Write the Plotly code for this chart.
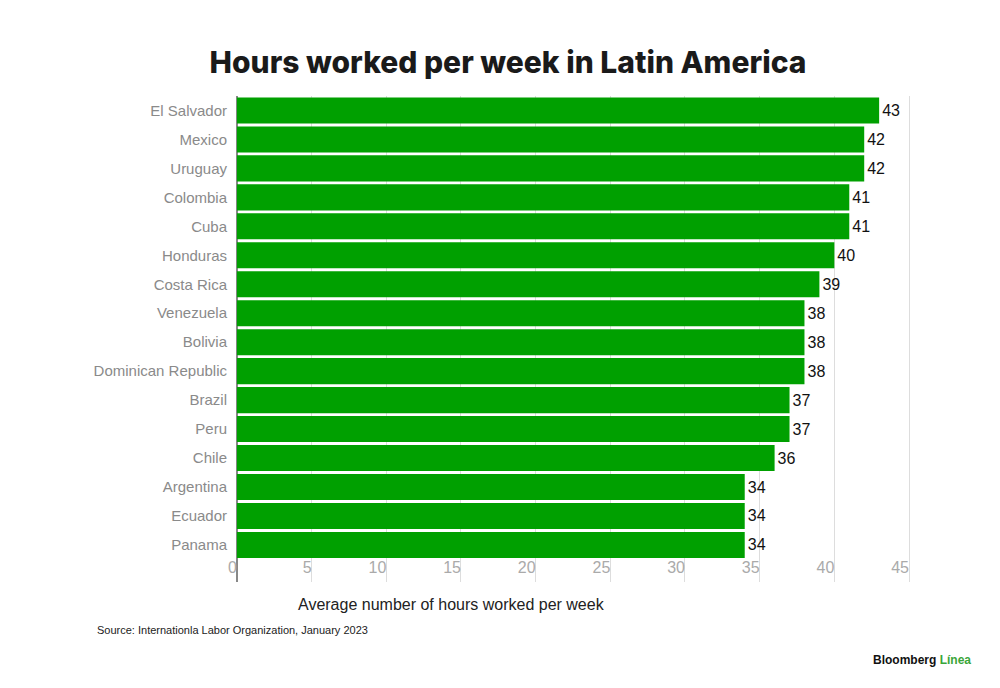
import plotly.graph_objects as go

countries = ["El Salvador", "Mexico", "Uruguay", "Colombia", "Cuba", "Honduras",
             "Costa Rica", "Venezuela", "Bolivia", "Dominican Republic", "Brazil",
             "Peru", "Chile", "Argentina", "Ecuador", "Panama"]
hours = [43, 42, 42, 41, 41, 40, 39, 38, 38, 38, 37, 37, 36, 34, 34, 34]
x_ticks = [0, 5, 10, 15, 20, 25, 30, 35, 40, 45]

fig = go.Figure()

# Bars
fig.add_trace(go.Bar(
    x=hours, y=countries, orientation="h",
    marker=dict(color="#00A000", line=dict(width=0)),
    text=hours, textposition="outside",
    textfont=dict(family="Liberation Sans", size=16, color="#111111"),
    cliponaxis=False,
    name="Hours"
))

fig.update_layout(
    width=1000, height=688,
    paper_bgcolor="white", plot_bgcolor="white",
    margin=dict(l=214, r=96, t=88, b=114),
    showlegend=False,
    bargap=0.1,
    title=dict(
        text="Hours worked per week in Latin America",
        x=0.5, xanchor="center", y=0.9215, yanchor="middle",
        font=dict(family="Inter", size=30, color="#1a1a1a", weight=800)
    ),
    xaxis=dict(
        range=[-1, 45.2], tickvals=x_ticks,
        showgrid=True, gridcolor="#dddddd", gridwidth=1,
        zeroline=True, zerolinecolor="#888888", zerolinewidth=2,
        showline=False,
        ticklabelposition="inside left", ticksuffix="\u00a0",
        tickfont=dict(family="Liberation Sans", size=16, color="#aaaaaa"),
    ),
    yaxis=dict(
        categoryorder="array", categoryarray=countries,
        range=[16.28, -0.5],
        showline=False, showgrid=False, ticks="",
        ticklabelstandoff=-6,
        tickfont=dict(family="Liberation Sans", size=15, color="#8a8a8a"),
    ),
)

# Axis title, source and logo
fig.add_annotation(
    text="Average number of hours worked per week",
    xref="paper", yref="paper", x=0.3333, y=-0.0473, xanchor="center", yanchor="middle",
    showarrow=False, font=dict(family="Liberation Sans", size=16, color="#222222")
)
fig.add_annotation(
    text="Source: Internationla Labor Organization, January 2023",
    xref="paper", yref="paper", x=-0.184, y=-0.0988, xanchor="left", yanchor="middle",
    showarrow=False, font=dict(family="Liberation Sans", size=11, color="#222222")
)
fig.add_annotation(
    text="<b>Bloomberg</b> <b><span style='color:#3aa63a'>Línea</span></b>",
    xref="paper", yref="paper", x=1.0884, y=-0.1605, xanchor="right", yanchor="middle",
    showarrow=False, font=dict(family="Liberation Sans", size=12, color="#111111")
)

fig.write_html("out.html")
